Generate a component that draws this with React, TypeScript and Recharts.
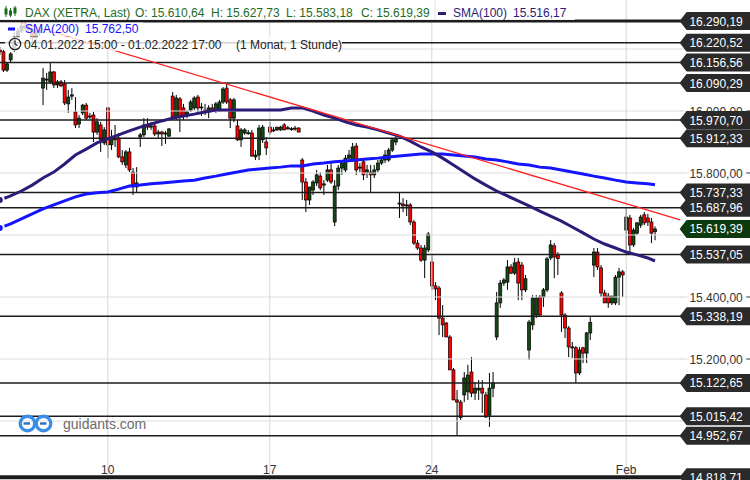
import React from 'react';
import { ComposedChart, Bar, Line, XAxis, YAxis, ReferenceLine } from 'recharts';

type OHLC = [number, number, number, number];

// Hourly candles (open, high, low, close), one array per trading day
const jan04: OHLC[] = [[16197,16206,16181,16191],[16191,16197,16126,16132],[16132,16158,16126,16152]];
const jan05: OHLC[] = [[16165,16190,16158,16184],[16197,16255,16191,16239],[16239,16268,16236,16258],[16258,16290,16252,16274],[16274,16287,16261,16268],[16268,16281,16255,16261],[16261,16268,16223,16236],[16236,16261,16229,16252],[16252,16268,16242,16261]];
const jan06: OHLC[] = [[16074,16139,16019,16106],[16100,16123,16068,16103],[16094,16155,16087,16126],[16126,16129,16074,16084],[16084,16100,16074,16094],[16094,16100,16077,16081],[16087,16100,16019,16026],[16023,16068,15994,16045],[16048,16074,16036,16052]];
const jan07: OHLC[] = [[15997,16045,15945,15955],[15958,15987,15945,15977],[15994,16023,15987,16019],[16019,16026,15971,15977],[15984,15994,15974,15981],[15987,15997,15900,15932],[15932,15977,15923,15965],[15955,15965,15868,15907],[15897,15948,15890,15939]];
const jan10: OHLC[] = [[16010,16013,15848,15891],[15891,15939,15874,15913],[15913,15955,15884,15907],[15913,15929,15848,15852],[15852,15874,15826,15836],[15826,15874,15816,15868],[15868,15881,15803,15810],[15803,15816,15729,15755],[15755,15819,15736,15768]];
const jan11: OHLC[] = [[15916,15929,15884,15923],[15923,15977,15916,15955],[15955,15977,15939,15948],[15948,15965,15939,15952],[15952,15958,15919,15926],[15926,15939,15913,15932],[15932,15936,15887,15926],[15926,15936,15894,15929],[15919,15945,15916,15942]];
const jan12: OHLC[] = [[16048,16061,15971,15981],[15981,16052,15971,16042],[16039,16045,15932,15981],[16010,16023,15971,15984],[15990,16003,15977,15997],[16003,16036,15997,16029],[16010,16048,16003,16042],[16045,16052,15997,16010],[16010,16026,15984,16013]];
const jan13: OHLC[] = [[16003,16023,15987,15997],[15997,16019,15977,16010],[16010,16023,15997,16003],[16003,16029,15994,16023],[16003,16036,15997,16029],[16029,16077,16023,16071],[16074,16087,16023,16029],[16036,16042,15945,15977],[15977,16042,15964,16036]];
const jan14: OHLC[] = [[15952,15971,15903,15907],[15907,15945,15884,15939],[15929,15945,15923,15939],[15929,15939,15923,15930],[15929,15939,15852,15855],[15852,15874,15842,15858],[15858,15955,15842,15945],[15907,15955,15897,15948],[15900,15916,15858,15881]];
const jan17: OHLC[] = [[15948,15965,15923,15932],[15939,15948,15932,15938],[15939,15945,15936,15948],[15939,15952,15936,15948],[15955,15961,15939,15939],[15945,15952,15939,15946],[15942,15948,15936,15943],[15945,15952,15936,15942],[15945,15948,15932,15932]];
const jan18: OHLC[] = [[15842,15848,15713,15771],[15771,15784,15674,15713],[15713,15745,15697,15755],[15745,15777,15729,15771],[15768,15810,15758,15794],[15790,15803,15745,15752],[15761,15777,15729,15765],[15777,15826,15771,15810],[15810,15832,15765,15771]];
const jan19: OHLC[] = [[15642,15777,15629,15758],[15758,15826,15745,15816],[15816,15842,15794,15832],[15810,15858,15803,15848],[15848,15874,15836,15858],[15842,15897,15836,15884],[15887,15897,15794,15810],[15816,15832,15803,15819],[15836,15842,15777,15794]];
const jan20: OHLC[] = [[15803,15826,15784,15810],[15803,15826,15739,15794],[15794,15826,15784,15810],[15810,15842,15803,15832],[15832,15848,15826,15842],[15842,15874,15832,15858],[15842,15881,15836,15874],[15874,15913,15868,15907],[15900,15923,15890,15912]];
const jan21: OHLC[] = [[15700,15737,15655,15703],[15700,15719,15674,15694],[15694,15713,15661,15697],[15697,15703,15632,15642],[15642,15648,15568,15574],[15574,15584,15552,15558],[15558,15568,15513,15519],[15519,15568,15461,15558],[15552,15610,15545,15603]];
const jan24: OHLC[] = [[15513,15535,15423,15436],[15436,15448,15390,15426],[15429,15436,15277,15332],[15332,15374,15271,15310],[15316,15319,15271,15271],[15271,15277,15165,15165],[15165,15171,15068,15068],[15068,15100,14953,15061],[15061,15068,15003,15011]];
const jan25: OHLC[] = [[15084,15158,15061,15139],[15094,15181,15068,15148],[15158,15206,15077,15090],[15090,15126,15068,15106],[15100,15132,15068,15106],[15106,15132,15026,15090],[15084,15094,15010,15013],[15019,15155,14981,15106],[15106,15158,15077,15123]];
const jan26: OHLC[] = [[15271,15416,15261,15381],[15381,15455,15365,15445],[15445,15461,15436,15455],[15448,15519,15423,15497],[15497,15506,15474,15477],[15477,15526,15471,15510],[15513,15526,15390,15445],[15503,15513,15390,15423],[15423,15471,15416,15459]];
const jan27: OHLC[] = [[15229,15326,15197,15319],[15310,15406,15294,15397],[15342,15406,15332,15397],[15400,15406,15339,15342],[15400,15429,15368,15423],[15423,15529,15416,15523],[15526,15584,15519,15568],[15565,15574,15461,15529],[15536,15545,15471,15524]];
const jan28: OHLC[] = [[15413,15419,15287,15342],[15342,15348,15268,15300],[15300,15306,15206,15239],[15239,15255,15203,15236],[15236,15242,15123,15155],[15155,15239,15148,15229],[15236,15239,15187,15219],[15219,15287,15187,15284],[15284,15335,15261,15318]];
const jan31: OHLC[] = [[15503,15558,15464,15545],[15545,15558,15487,15497],[15494,15503,15400,15413],[15413,15423,15381,15381],[15403,15413,15365,15381],[15381,15403,15374,15403],[15381,15471,15374,15464],[15464,15494,15374,15481],[15481,15487,15400,15471]];
const feb01: OHLC[] = [[15616,15688,15537,15658],[15655,15665,15540,15568],[15568,15623,15561,15616],[15606,15642,15600,15639],[15632,15665,15623,15658],[15665,15674,15632,15639],[15655,15668,15629,15642],[15642,15655,15574,15606],[15610.64,15627.73,15583.18,15619.39]];

const tradingDays: OHLC[][] = [jan04, jan05, jan06, jan07, jan10, jan11, jan12, jan13, jan14, jan17, jan18, jan19, jan20, jan21, jan24, jan25, jan26, jan27, jan28, jan31, feb01];

// Moving averages read at every third candle: [candle slot, value]
const sma100Points: [number, number][] = [[0,15713],[3,15726],[6,15742],[9,15761],[12,15784],[15,15803],[18,15829],[21,15858],[24,15877],[27,15897],[30,15910],[33,15923],[36,15936],[39,15948],[42,15958],[45,15968],[48,15977],[51,15984],[54,15990],[57,15997],[60,16003],[63,16003],[66,16003],[69,16003],[72,16003],[75,16003],[78,16003],[81,16010],[84,16010],[87,16000],[90,15987],[93,15977],[96,15965],[99,15955],[102,15948],[105,15939],[108,15929],[111,15919],[114,15903],[117,15884],[120,15868],[123,15848],[126,15826],[129,15803],[132,15781],[135,15761],[138,15742],[141,15726],[144,15710],[147,15694],[150,15677],[153,15661],[156,15645],[159,15626],[162,15607],[165,15587],[168,15571],[171,15558],[174,15545],[177,15536],[180,15526],[182,15516.17]];
const sma200Points: [number, number][] = [[0,15623],[3,15636],[6,15652],[9,15668],[12,15684],[15,15697],[18,15710],[21,15723],[24,15732],[27,15736],[30,15739],[33,15748],[36,15758],[39,15761],[42,15765],[45,15768],[48,15771],[51,15774],[54,15777],[57,15784],[60,15790],[63,15797],[66,15803],[69,15810],[72,15813],[75,15816],[78,15819],[81,15823],[84,15823],[87,15829],[90,15832],[93,15836],[96,15839],[99,15842],[102,15845],[105,15848],[108,15852],[111,15855],[114,15858],[117,15861],[120,15861],[123,15861],[126,15858],[129,15855],[132,15852],[135,15845],[138,15842],[141,15836],[144,15829],[147,15826],[150,15819],[153,15816],[156,15810],[159,15803],[162,15797],[165,15790],[168,15784],[171,15777],[174,15771],[177,15768],[180,15765],[182,15762.5]];

const keyLevels = [16290.19, 16220.52, 16156.56, 16090.29, 15970.70, 15912.33, 15737.33, 15687.96, 15537.05, 15338.19, 15122.65, 15015.42, 14952.67, 14818.71];
const levelWidths = [3, 1.5, 1.5, 1.5, 1.5, 1.5, 1.5, 1.5, 1.5, 1.5, 1.5, 1.5, 1.5, 4];
const lastPrice = 15619.39;
const gridTicks = [15000, 15200, 15400, 15600, 15800, 16000, 16200];
const tickLabels = [15200, 15400, 15800, 16000];
const dayMarks = [{ slot: 30, label: '10' }, { slot: 75, label: '17' }, { slot: 120, label: '24' }, { slot: 174, label: 'Feb' }];
const trendStart = { slot: 6, price: 16285 };
const trendEnd = { slot: 189, price: 15649 };
const Y_DOMAIN: [number, number] = [14809.7, 16358.1];
const SLOT_COUNT = 190;

const FONT = "'Liberation Sans', Arial, sans-serif";

const candles: OHLC[] = tradingDays.flat();
const data: any[] = Array.from({ length: SLOT_COUNT }, (_, slot) => {
  const c = candles[slot];
  const row: any = { slot };
  if (c) {
    row.o = c[0]; row.h = c[1]; row.l = c[2]; row.c = c[3];
    row.range = [c[2], c[1]];
  }
  return row;
});
sma100Points.forEach(([s, v]) => { data[s].sma100 = v; });
sma200Points.forEach(([s, v]) => { data[s].sma200 = v; });

const fmt = (v: number) => {
  const [a, b] = v.toFixed(2).split('.');
  return a.replace(/\B(?=(\d{3})+(?!\d))/g, '.') + ',' + b;
};

const Candle = (props: any) => {
  const { x, y, width, height, payload } = props;
  if (!payload || payload.o == null || x == null) return null;
  const { o, h, l, c } = payload;
  const top = Math.min(y, y + height);
  const bot = Math.max(y, y + height);
  const span = h - l;
  const toY = (v: number) => (span === 0 ? top : top + ((h - v) / span) * (bot - top));
  const cx = x + width / 2;
  const yo = toY(o);
  const yc = toY(c);
  const up = c >= o;
  const bt = Math.min(yo, yc);
  const bh = Math.max(Math.abs(yc - yo), 1);
  return (
    <g>
      <line x1={cx} x2={cx} y1={top} y2={bot} stroke="#000" strokeWidth={1} />
      <rect x={cx - 1.5} y={bt} width={3} height={bh} fill={up ? '#144814' : '#ff0000'} stroke="#000" strokeWidth={0.7} />
    </g>
  );
};

const gridExtension = (p: any) => {
  const vb = p && p.viewBox ? p.viewBox : null;
  if (!vb) return null;
  return <line x1={682} x2={691} y1={vb.y} y2={vb.y} stroke="#dedede" strokeWidth={1} />;
};

const tickLabel = (p: any, value: number) => {
  const vb = p && p.viewBox ? p.viewBox : null;
  if (!vb) return null;
  const y = vb.y;
  return (
    <g>
      <text x={744.8} y={y + 4.5} textAnchor="end" fontSize={12} fill="#333" fontFamily={FONT}>{fmt(value)}</text>
      <line x1={748.3} x2={752} y1={y} y2={y} stroke="#333" strokeWidth={1} />
    </g>
  );
};

const flag = (p: any, value: number, fill: string) => {
  const vb = p && p.viewBox ? p.viewBox : null;
  if (!vb) return null;
  const y = vb.y;
  const tip = 681.6;
  const left = 688.6;
  const right = 752;
  return (
    <g>
      <path d={`M${tip},${y} L${left},${y - 9} L${right},${y - 9} L${right},${y + 9} L${left},${y + 9} Z`} fill={fill} />
      <text x={744.8} y={y + 4.5} textAnchor="end" fontSize={12} fill="#fff" fontFamily={FONT}>{fmt(value)}</text>
    </g>
  );
};

const dayLabel = (p: any, label: string) => {
  const vb = p && p.viewBox ? p.viewBox : null;
  if (!vb) return null;
  return <text x={vb.x} y={474} textAnchor="middle" fontSize={12} fill="#333" fontFamily={FONT}>{label}</text>;
};

export default function App() {
  return (
    <div style={{ position: 'absolute', left: 0, top: 0, width: 750, height: 480, overflow: 'hidden', background: '#fff', fontFamily: FONT }}>
      <div style={{ position: 'absolute', left: -1.8, top: 0 }}>
        <ComposedChart width={752} height={480} data={data} margin={{ top: 0, right: 0, bottom: 0, left: 0 }} barCategoryGap="10%">
          <XAxis dataKey="slot" hide />
          <YAxis orientation="right" width={68} domain={Y_DOMAIN} allowDataOverflow ticks={gridTicks} tick={false} axisLine={false} tickLine={false} />
          {gridTicks.map((t) => (
            <ReferenceLine key={'g' + t} y={t} stroke="#dedede" strokeWidth={1} label={gridExtension} />
          ))}
          {dayMarks.map((d) => (
            <ReferenceLine key={'v' + d.slot} x={d.slot} stroke="#d6d6d6" strokeWidth={1} label={(p: any) => dayLabel(p, d.label)} />
          ))}
          {keyLevels.map((v, k) => (
            <ReferenceLine key={'l' + v} y={v} stroke="#1c1c1c" strokeWidth={levelWidths[k]} />
          ))}
          <Bar dataKey="range" shape={Candle} isAnimationActive={false} />
          <Line dataKey="sma200" stroke="#1414ff" strokeWidth={3} dot={false} connectNulls isAnimationActive={false} />
          <Line dataKey="sma100" stroke="#2c1c78" strokeWidth={3} dot={false} connectNulls isAnimationActive={false} />
          <ReferenceLine
            segment={[{ x: trendStart.slot, y: trendStart.price }, { x: trendEnd.slot, y: trendEnd.price }]}
            stroke="#ff2222"
            strokeWidth={1.3}
          />
          {tickLabels.map((t) => (
            <ReferenceLine key={'t' + t} y={t} stroke="none" label={(p: any) => tickLabel(p, t)} />
          ))}
          {keyLevels.map((v) => (
            <ReferenceLine key={'f' + v} y={v} stroke="none" label={(p: any) => flag(p, v, '#2a2a2a')} />
          ))}
          <ReferenceLine y={lastPrice} stroke="none" label={(p: any) => flag(p, lastPrice, '#0c3a0e')} />
        </ComposedChart>
      </div>
      <svg width={750} height={480} style={{ position: 'absolute', left: 0, top: 0, pointerEvents: 'none' }} fontFamily={FONT}>
        {/* legend backgrounds */}
        <rect x={0} y={0} width={575} height={20} fill="#fff" fillOpacity={0.88} />
        <rect x={0} y={22.5} width={143} height={13.5} fill="#fff" fillOpacity={0.78} />
        <rect x={5} y={36.5} width={337} height={14.5} fill="#fff" fillOpacity={0.8} />
        {/* row 1 icon */}
        <g stroke="#1e6b1e" strokeWidth={1} fill="#1e6b1e">
          <line x1={6} x2={6} y1={6} y2={17} />
          <rect x={5} y={9} width={2} height={5} />
          <line x1={10.5} x2={10.5} y1={8} y2={17} />
          <rect x={9.5} y={11} width={2} height={4} />
          <line x1={15} x2={15} y1={6} y2={16} />
          <rect x={14} y={8} width={2} height={5} />
        </g>
        <g fontSize={12} fill="#1e6b1e">
          <text x={25} y={17}>DAX (XETRA, Last)</text>
          <text x={135} y={17}>O: 15.610,64</text>
          <text x={211} y={17}>H: 15.627,73</text>
          <text x={286} y={17}>L: 15.583,18</text>
          <text x={361} y={17}>C: 15.619,39</text>
        </g>
        <line x1={435} x2={435} y1={0} y2={20} stroke="#e2e2e2" />
        <rect x={438} y={12} width={8} height={3} fill="#2c1c78" />
        <g fontSize={12} fill="#2c1c78">
          <text x={453} y={17}>SMA(100)</text>
          <text x={513} y={17}>15.516,17</text>
        </g>
        {/* row 2 */}
        <rect x={8} y={27.5} width={7} height={3} fill="#1414ff" />
        <g fontSize={12} fill="#1414ff">
          <text x={25} y={32.5}>SMA(200)</text>
          <text x={85} y={32.5}>15.762,50</text>
        </g>
        {/* row 3 */}
        <circle cx={15} cy={44} r={5.7} fill="none" stroke="#222" strokeWidth={1.3} />
        <polyline points="15,40.5 15,44 17.5,45.5" fill="none" stroke="#222" strokeWidth={1.2} />
        <g fontSize={12} fill="#222">
          <text x={24} y={48.5}>04.01.2022 15:00 - 01.02.2022 17:00</text>
          <text x={236} y={48.5}>(1 Monat, 1 Stunde)</text>
        </g>
        {/* watermark */}
        <g fill="none" stroke="#3a8ee6" strokeWidth={3.4}>
          <circle cx={27.5} cy={423.5} r={7.3} />
          <circle cx={43.5} cy={423.5} r={7.3} />
        </g>
        <g stroke="#2b6fbf" strokeWidth={2.4}>
          <line x1={23.5} x2={30} y1={423.5} y2={423.5} />
          <line x1={40} x2={46.5} y1={423.5} y2={423.5} />
        </g>
        <text x={63} y={428.5} fontSize={14} fill="#6b6b6b">guidants.com</text>
      </svg>
    </div>
  );
}
